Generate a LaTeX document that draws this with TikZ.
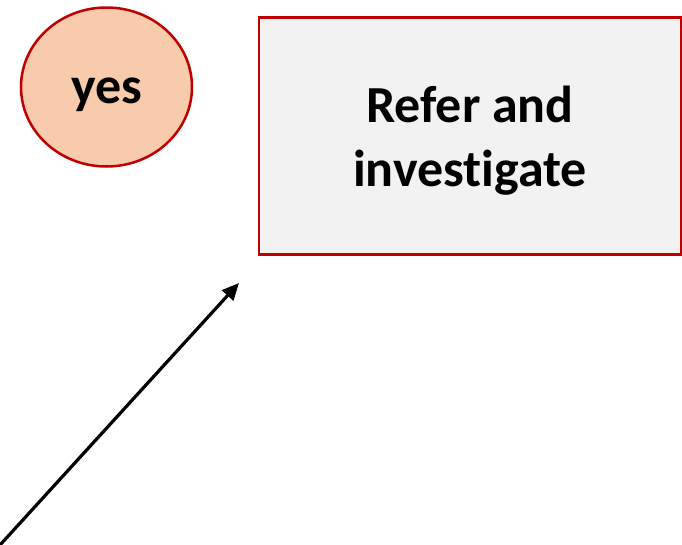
\documentclass[tikz,border=0pt]{standalone}
\usepackage{fontspec}
\setmainfont{Carlito}[Ligatures={NoCommon}]
\usepackage{tikz}
\usetikzlibrary{shapes.geometric,arrows.meta,positioning}
\definecolor{darkred}{HTML}{C00000}
\definecolor{peach}{HTML}{F8CBAD}
\definecolor{lightgrey}{HTML}{F2F2F2}
\tikzstyle{answer} = [ellipse, draw=darkred, fill=peach, line width=2.5pt,
                      minimum width=171pt, minimum height=159pt, inner sep=0pt,
                      text height=43pt, text depth=11pt,
                      font=\fontsize{52}{64}\selectfont\bfseries]
\tikzstyle{block} = [rectangle, draw=darkred, fill=lightgrey, line width=2.5pt,
                     align=center, minimum width=422pt, minimum height=237pt,
                     text height=112pt, text depth=12pt,
                     font=\fontsize{52}{64}\selectfont\bfseries]
\tikzstyle{arrow} = [-{Triangle[length=17pt,width=15pt]}, line width=3.2pt]

\begin{document}
\begin{tikzpicture}[x=1pt, y=-1pt]
    \useasboundingbox (0,0) rectangle (682,544);
    \node [answer] (yes) at (106.5,87) {yes};
    \node [block] (refer) at (470,136) {Refer and\\investigate};

    \coordinate (from) at (0,545);
    \coordinate (to) at (239,283);
    \draw [arrow] (from) -- (to);
\end{tikzpicture}
\end{document}
